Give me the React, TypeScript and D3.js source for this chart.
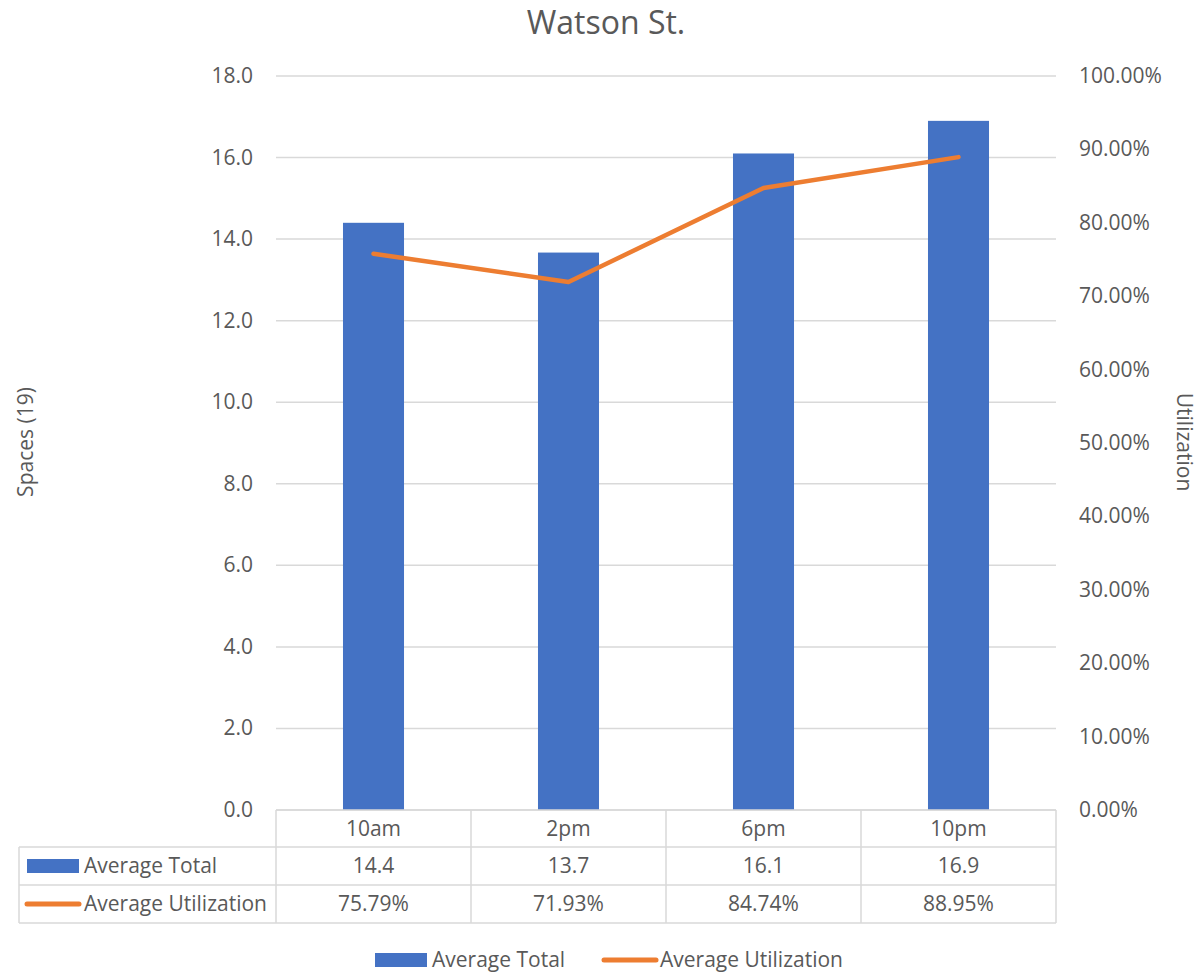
import React from "react";
import * as d3 from "d3";

const categories = ["10am", "2pm", "6pm", "10pm"];
const averageTotal = [14.4, 13.67, 16.1, 16.9];
const averageUtilization = [0.7579, 0.7193, 0.8474, 0.8895];
const leftTicks = [0, 2, 4, 6, 8, 10, 12, 14, 16, 18];
const rightTicks = [0, 0.1, 0.2, 0.3, 0.4, 0.5, 0.6, 0.7, 0.8, 0.9, 1.0];
const seriesNames = ["Average Total", "Average Utilization"];

const W = 1200, H = 973;
const FONT = "'Open Sans', 'Noto Sans', sans-serif";
const TEXT = "#595959";
const GRID = "#D9D9D9";
const BLUE = "#4472C4";
const ORANGE = "#ED7D31";

export default function App() {
  const left = 276, right = 1056, top = 76, bottom = 810;
  const x = d3.scaleBand<string>().domain(categories).range([left, right]).paddingInner(0).paddingOuter(0);
  const yL = d3.scaleLinear().domain([0, 18]).range([bottom, top]);
  const yR = d3.scaleLinear().domain([0, 1]).range([bottom, top]);
  const barW = x.bandwidth() * 0.313;
  const cx = (c: string) => (x(c) as number) + x.bandwidth() / 2;
  const line = d3.line<number>().x((_, i) => cx(categories[i])).y((d) => yR(d));
  const fmtPct = d3.format(".2%");
  const fmt1 = d3.format(".1f");

  const tableLeft = 19;
  const rowY = [810, 847, 885, 923];
  const fs = 21;

  return (
    <svg width={W} height={H} style={{ display: "block", position: "absolute", left: 0, top: 0 }} fontFamily={FONT}>
      <rect x={0} y={0} width={W} height={H} fill="#fff" />
      <text x={606} y={34} textAnchor="middle" fontSize={32} fill={TEXT}>Watson St.</text>

      {leftTicks.map((t) => (
        <line key={"g" + t} x1={left} x2={right} y1={yL(t)} y2={yL(t)} stroke={GRID} strokeWidth={1.5} />
      ))}
      {leftTicks.map((t) => (
        <text key={"l" + t} x={253} y={yL(t) + 7} textAnchor="end" fontSize={fs} fill={TEXT}>{fmt1(t)}</text>
      ))}
      {rightTicks.map((t) => (
        <text key={"r" + t} x={1079} y={yR(t) + 7} textAnchor="start" fontSize={fs} fill={TEXT}>{fmtPct(t)}</text>
      ))}

      <text transform={`translate(33,442) rotate(-90)`} textAnchor="middle" fontSize={fs} fill={TEXT}>Spaces (19)</text>
      <text transform={`translate(1177,442) rotate(90)`} textAnchor="middle" fontSize={fs} fill={TEXT}>Utilization</text>

      {categories.map((c, i) => (
        <rect key={"b" + c} x={cx(c) - barW / 2} y={yL(averageTotal[i])} width={barW} height={bottom - yL(averageTotal[i])} fill={BLUE} />
      ))}
      <path d={line(averageUtilization) || ""} fill="none" stroke={ORANGE} strokeWidth={4.5} strokeLinecap="round" strokeLinejoin="round" />

      {/* data table */}
      <g stroke={GRID} strokeWidth={1.5} fill="none">
        <line x1={left} x2={right} y1={rowY[0]} y2={rowY[0]} />
        <line x1={tableLeft} x2={right} y1={rowY[1]} y2={rowY[1]} />
        <line x1={tableLeft} x2={right} y1={rowY[2]} y2={rowY[2]} />
        <line x1={tableLeft} x2={right} y1={rowY[3]} y2={rowY[3]} />
        <line x1={tableLeft} x2={tableLeft} y1={rowY[1]} y2={rowY[3]} />
        {categories.map((c) => (
          <line key={"v" + c} x1={x(c) as number} x2={x(c) as number} y1={rowY[0]} y2={rowY[3]} />
        ))}
        <line x1={right} x2={right} y1={rowY[0]} y2={rowY[3]} />
      </g>
      {categories.map((c, i) => (
        <g key={"t" + c}>
          <text x={cx(c)} y={836} textAnchor="middle" fontSize={fs} fill={TEXT}>{c}</text>
          <text x={cx(c)} y={873} textAnchor="middle" fontSize={fs} fill={TEXT}>{fmt1(averageTotal[i])}</text>
          <text x={cx(c)} y={911} textAnchor="middle" fontSize={fs} fill={TEXT}>{fmtPct(averageUtilization[i])}</text>
        </g>
      ))}
      <rect x={27} y={859} width={52} height={14} fill={BLUE} />
      <text x={84} y={873} fontSize={fs} fill={TEXT}>{seriesNames[0]}</text>
      <line x1={27} x2={79} y1={904} y2={904} stroke={ORANGE} strokeWidth={5} strokeLinecap="round" />
      <text x={84} y={911} fontSize={fs} fill={TEXT}>{seriesNames[1]}</text>

      {/* legend */}
      <rect x={375} y={953} width={52} height={14} fill={BLUE} />
      <text x={432} y={967} fontSize={fs} fill={TEXT}>{seriesNames[0]}</text>
      <line x1={604} x2={656} y1={960} y2={960} stroke={ORANGE} strokeWidth={5} strokeLinecap="round" />
      <text x={660} y={967} fontSize={fs} fill={TEXT}>{seriesNames[1]}</text>
    </svg>
  );
}
